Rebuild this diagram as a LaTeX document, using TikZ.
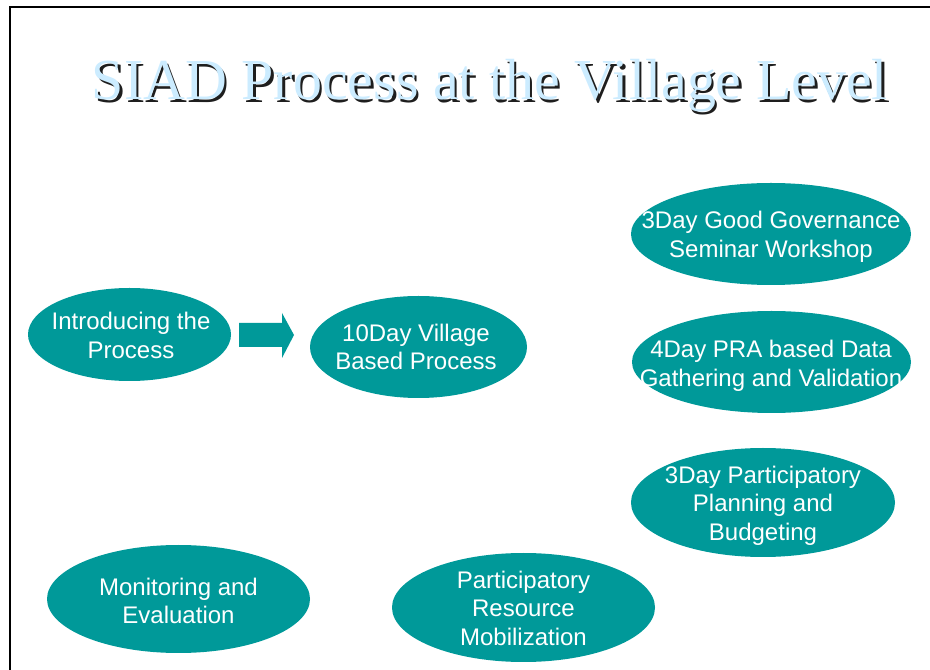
\documentclass[tikz,border=0pt]{standalone}
\usepackage{fontspec}
\setmainfont{Liberation Sans}
\newfontfamily\titlefont{Liberation Serif}
\usetikzlibrary{shapes.geometric}
\definecolor{tealfill}{RGB}{0,153,153}
\definecolor{titleblue}{RGB}{204,236,255}
\definecolor{titleshadow}{RGB}{30,30,30}
\tikzset{
  blob/.style={ellipse, fill=tealfill, draw=none, inner sep=0pt, outer sep=0pt},
  blobtext/.style={text=white, align=center, font=\fontsize{24}{28.5}\selectfont, inner sep=0pt},
  frame/.style={line width=1.6pt, black},
  titletext/.style={inner sep=0pt, anchor=base}
}
\newcommand{\TitleStr}{\resizebox{796pt}{\height}{\titlefont\fontsize{58}{58}\selectfont SIAD Process at the Village Level}}
\begin{document}
\begin{tikzpicture}[x=1pt,y=1pt]
\useasboundingbox (0,0) rectangle (930,670);
% frame
\draw[frame] (10,0) -- (10,663) -- (930,663);
% title with shadow
\node[titletext, text=titleshadow] (title-s) at (492.5,567.5) {\TitleStr};
\node[titletext, text=titleblue] (title) at (490,570) {\TitleStr};
% ellipses
\node[blob, minimum width=203pt, minimum height=93pt] (intro) at (129.5,335.5) {};
\node[blob, minimum width=217pt, minimum height=102pt] (village) at (418.5,323) {};
\node[blob, minimum width=280pt, minimum height=102pt] (gov) at (771,436) {};
\node[blob, minimum width=279pt, minimum height=102pt] (pra) at (771.5,308) {};
\node[blob, minimum width=264pt, minimum height=109pt] (plan) at (763,167.5) {};
\node[blob, minimum width=263pt, minimum height=108pt] (mon) at (178.5,71) {};
\node[blob, minimum width=263pt, minimum height=109pt] (res) at (523.5,62.5) {};
% texts
\node[blobtext] (intro-t) at (131,334.5) {Introducing the\\Process};
\node[blobtext] (village-t) at (416,323) {10Day Village\\Based Process};
\node[blobtext] (gov-t) at (771,433) {3Day Good Governance\\Seminar Workshop};
\node[blobtext] (pra-t) at (771,304) {4Day PRA based Data\\Gathering and Validation};
\node[blobtext] (plan-t) at (763,164.5) {3Day Participatory\\Planning and\\Budgeting};
\node[blobtext] (mon-t) at (178.5,69) {Monitoring and\\Evaluation};
\node[blobtext] (res-t) at (523.5,62) {Participatory\\Resource\\Mobilization};
% block arrow from intro to village
\fill[tealfill] (239,323) -- (239,347) -- (282,347) -- (282,357) -- (294,335) -- (282,312) -- (282,323) -- cycle;
\end{tikzpicture}
\end{document}
